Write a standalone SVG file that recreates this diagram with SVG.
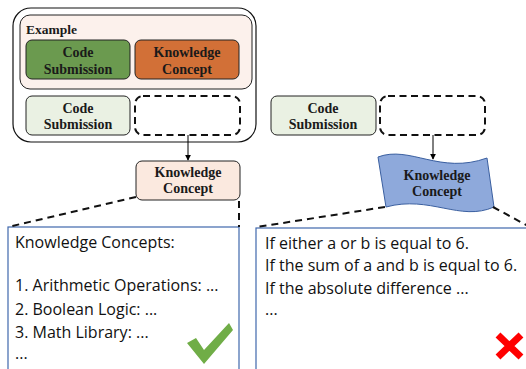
<svg xmlns="http://www.w3.org/2000/svg" width="526" height="369" viewBox="0 0 526 369">
<defs>
<marker id="ah" viewBox="0 0 8 8" refX="7" refY="4" markerWidth="6" markerHeight="6" markerUnits="userSpaceOnUse" orient="auto">
<path d="M0,0 L8,4 L0,8 Z" fill="#000"/>
</marker>
<style>
.lbl{font-family:"Liberation Serif","Times New Roman",serif;font-weight:bold;font-size:14px;fill:#1a1a1a;text-anchor:middle}
.box{stroke:#222;stroke-width:1}
.dash{fill:#fff;stroke:#111;stroke-width:2;stroke-dasharray:7 4.5}
.dl{fill:none;stroke:#111;stroke-width:2;stroke-dasharray:7 5}
.body{font-family:"Open Sans","Noto Sans",sans-serif;font-size:16px;fill:#111}
.panel{fill:#fff;stroke:#4068AC;stroke-width:1.2}
</style>
</defs>
<rect width="526" height="369" fill="#fff"/>

<g id="panel-left">
<rect class="panel" x="8" y="227" width="231" height="150"/>
<text class="body" x="15" y="248">Knowledge Concepts:</text>
<text class="body" x="15" y="291">1. Arithmetic Operations: ...</text>
<text class="body" x="15" y="315">2. Boolean Logic: ...</text>
<text class="body" x="15" y="338">3. Math Library: ...</text>
<text class="body" x="15" y="359">...</text>
<path d="M187,343 L196,338 L204,350 L229,323 L233,330 L204,364 Z" fill="#70AD47"/>
</g>

<g id="panel-right">
<rect class="panel" x="256" y="228" width="280" height="150"/>
<text class="body" x="265" y="249">If either a or b is equal to 6.</text>
<text class="body" x="265" y="271">If the sum of a and b is equal to 6.</text>
<text class="body" x="265" y="294">If the absolute difference ...</text>
<text class="body" x="265" y="315">...</text>
<path d="M498,335 L521,357 M521,335 L498,357" stroke="#FF0000" stroke-width="7"/>
</g>

<g id="example-group">
<rect x="13" y="8" width="243" height="134" rx="18" fill="#fff" stroke="#111" stroke-width="1.2"/>
<rect x="20" y="15" width="232" height="74" rx="10" fill="#FCF1EC" stroke="#222" stroke-width="1"/>
<text x="26" y="34" font-family="Liberation Serif,serif" font-weight="bold" font-size="13.5" fill="#1a1a1a">Example</text>
</g>

<g id="ex-code">
<rect class="box" x="26" y="40" width="104" height="39" rx="6" fill="#6B9A4F"/>
<text class="lbl" x="78" y="57">Code</text>
<text class="lbl" x="78" y="74">Submission</text>
</g>
<g id="ex-kc">
<rect class="box" x="135" y="40" width="104" height="39" rx="6" fill="#D27037"/>
<text class="lbl" x="187" y="57">Knowledge</text>
<text class="lbl" x="187" y="74">Concept</text>
</g>
<g id="left-code">
<rect class="box" x="26" y="96" width="104" height="39" rx="6" fill="#EAF1E3"/>
<text class="lbl" x="78" y="113">Code</text>
<text class="lbl" x="78" y="129">Submission</text>
</g>
<g id="left-blank">
<rect class="dash" x="135" y="96" width="105" height="39" rx="8"/>
</g>
<g id="left-kc">
<rect class="box" x="136" y="161" width="104" height="39" rx="6" fill="#FBE9DF"/>
<text class="lbl" x="188" y="177">Knowledge</text>
<text class="lbl" x="188" y="193">Concept</text>
</g>

<g id="right-code">
<rect class="box" x="271" y="96" width="105" height="39" rx="6" fill="#EAF1E3"/>
<text class="lbl" x="323" y="113">Code</text>
<text class="lbl" x="323" y="129">Submission</text>
</g>
<g id="right-blank">
<rect class="dash" x="380" y="96" width="105" height="39" rx="8"/>
</g>
<g id="right-kc">
<path d="M378,157 C410,145 440,175 487,158 L494,207 C460,222 430,195 386,207 Z" fill="#8EA9DB" stroke="#3A5FA0" stroke-width="1"/>
<text class="lbl" x="437" y="180">Knowledge</text>
<text class="lbl" x="437" y="196">Concept</text>
</g>

<g id="connectors">
<line x1="188" y1="135" x2="188" y2="160" stroke="#000" stroke-width="1" marker-end="url(#ah)"/>
<line x1="433" y1="135" x2="433" y2="159" stroke="#000" stroke-width="1" marker-end="url(#ah)"/>
<line class="dl" x1="136" y1="197" x2="8" y2="227"/>
<line class="dl" x1="239" y1="201" x2="239" y2="227"/>
<line class="dl" x1="385" y1="207" x2="257" y2="227"/>
<line class="dl" x1="493" y1="207" x2="528" y2="226"/>
</g>
</svg>
